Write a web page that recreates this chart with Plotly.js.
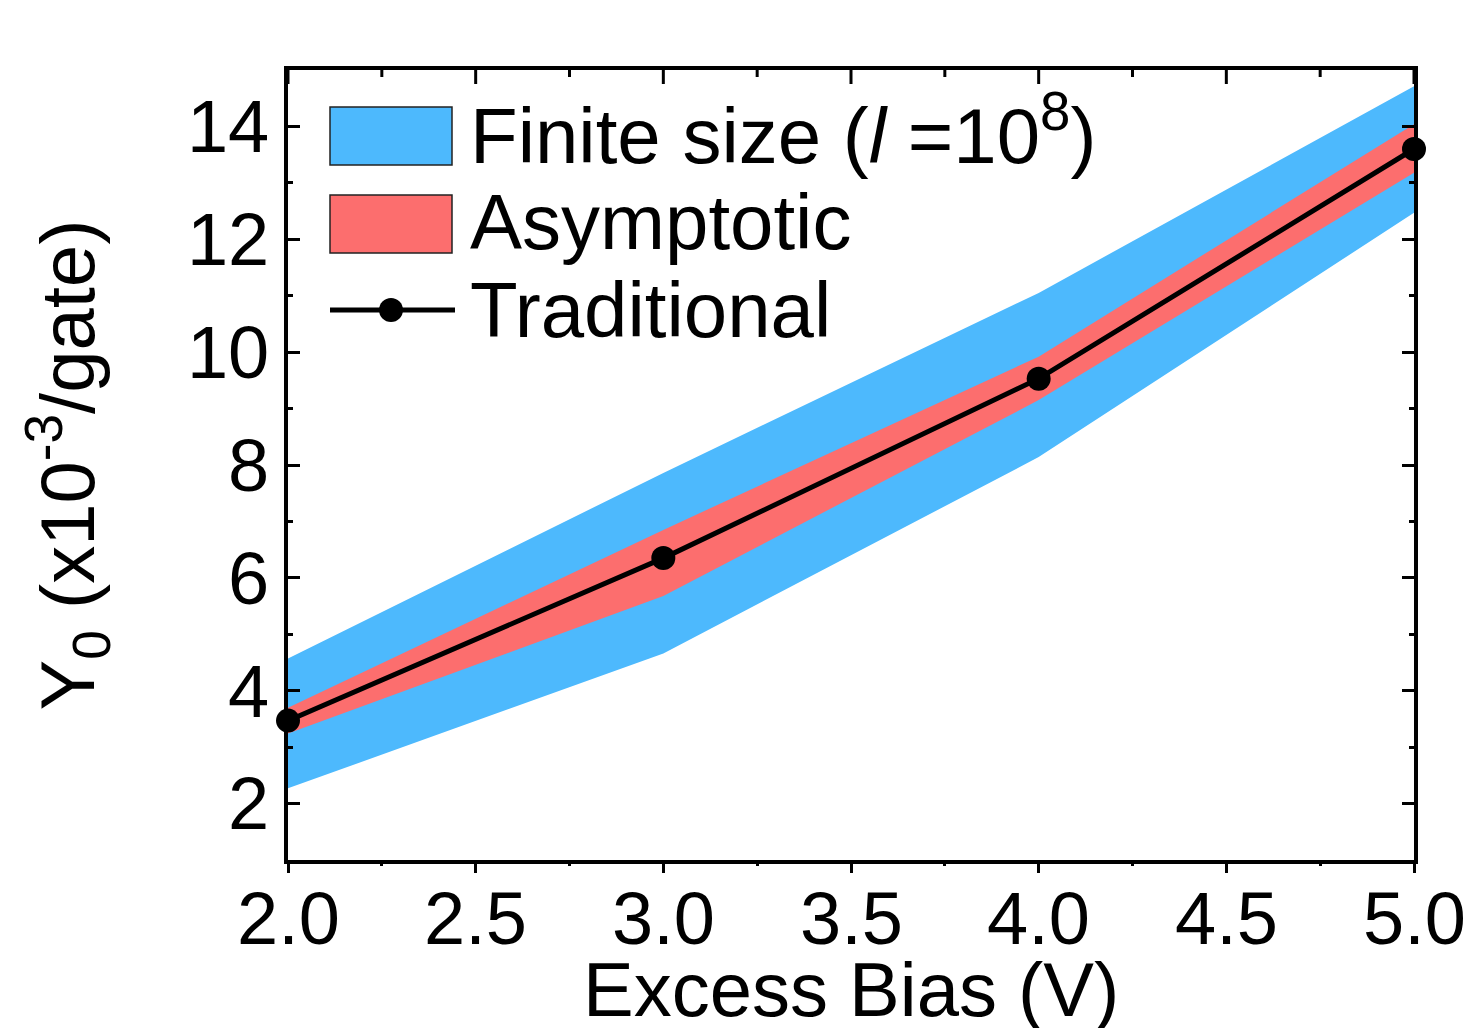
<!DOCTYPE html>
<html>
<head>
<meta charset="utf-8">
<script src="https://cdn.plot.ly/plotly-3.0.1.min.js"></script>
<style>html,body{margin:0;padding:0;background:#fff;}#chart{width:1470px;height:1028px;}</style>
</head>
<body>
<div id="chart"></div>
<script>
// ---- data ----
const excessBias = [2, 3, 4, 5];
const finiteUpper = [4.57, 7.86, 11.05, 14.71];
const finiteLower = [2.27, 4.66, 8.14, 12.47];
const asymUpper = [3.70, 6.85, 9.92, 14.04];
const asymLower = [3.24, 5.68, 9.15, 13.18];
const traditional = [3.47, 6.35, 9.53, 13.60];
const xTickVals = [2.0, 2.5, 3.0, 3.5, 4.0, 4.5, 5.0];
const xTickText = ['2.0', '2.5', '3.0', '3.5', '4.0', '4.5', '5.0'];
const xMinorVals = [2.25, 2.75, 3.25, 3.75, 4.25, 4.75];
const yTickVals = [2, 4, 6, 8, 10, 12, 14];
const yMinorVals = [1, 3, 5, 7, 9, 11, 13, 15];
const xTitle = 'Excess Bias (V)';
const yTitle = 'Y<sub>0</sub> (x10<sup>-3</sup>/gate)';
const legendLabels = ['Finite size (<i>l</i> =10<sup>8</sup>)', 'Asymptotic', 'Traditional'];

const blue = '#4DB9FD';
const red = '#FC6E6E';
const FONT = 'Liberation Sans, Arial, sans-serif';

function band(upper, lower) {
  return {
    x: excessBias.concat(excessBias.slice().reverse()),
    y: upper.concat(lower.slice().reverse())
  };
}
const fb = band(finiteUpper, finiteLower);
const ab = band(asymUpper, asymLower);

const traces = [
  {x: fb.x, y: fb.y, type: 'scatter', mode: 'lines', fill: 'toself', fillcolor: blue,
   line: {width: 0, color: blue}, name: legendLabels[0], showlegend: false, hoverinfo: 'skip'},
  {x: ab.x, y: ab.y, type: 'scatter', mode: 'lines', fill: 'toself', fillcolor: red,
   line: {width: 0, color: red}, name: legendLabels[1], showlegend: false, hoverinfo: 'skip'},
  {x: excessBias, y: traditional, type: 'scatter', mode: 'lines+markers', name: legendLabels[2],
   line: {color: '#000', width: 5}, marker: {color: '#000', size: 24}, cliponaxis: false, showlegend: false},
  // invisible carrier trace so the tick-only bottom axis is drawn
  {x: excessBias, y: traditional, xaxis: 'x3', yaxis: 'y', type: 'scatter', mode: 'markers',
   marker: {opacity: 0, size: 1}, showlegend: false, hoverinfo: 'skip'}
];

// custom legend (paper coordinates)
const px = v => (v - 288) / 1126;
const py = v => (860 - v) / 790;
const shapes = [
  {type: 'rect', xref: 'paper', yref: 'paper', x0: px(330), x1: px(452), y0: py(165), y1: py(107),
   fillcolor: blue, line: {color: '#222', width: 1.5}},
  {type: 'rect', xref: 'paper', yref: 'paper', x0: px(330), x1: px(452), y0: py(253), y1: py(195),
   fillcolor: red, line: {color: '#222', width: 1.5}},
  {type: 'line', xref: 'paper', yref: 'paper', x0: px(330), x1: px(455), y0: py(310), y1: py(310),
   line: {color: '#000', width: 5}},
  {type: 'circle', xref: 'paper', yref: 'paper', x0: px(379), x1: px(403), y0: py(322), y1: py(298),
   fillcolor: '#000', line: {color: '#000', width: 0}}
];
// inward ticks on the top frame, placed on the x data scale
xTickVals.forEach(v => shapes.push({type: 'line', xref: 'x', yref: 'paper', x0: v, x1: v,
  y0: 1, y1: 1 - 14 / 790, line: {color: '#000', width: 3}}));
xMinorVals.forEach(v => shapes.push({type: 'line', xref: 'x', yref: 'paper', x0: v, x1: v,
  y0: 1, y1: 1 - 7 / 790, line: {color: '#000', width: 3}}));

const legendY = [131, 222, 310];
const annotations = legendLabels.map((t, i) => ({
  xref: 'paper', yref: 'paper', x: px(468), y: py(legendY[i]), xanchor: 'left', yanchor: 'middle',
  text: t, showarrow: false, font: {family: FONT, size: 78, color: '#000'}
}));
// x tick labels placed on the x data scale
xTickVals.forEach((v, i) => annotations.push({
  xref: 'x', yref: 'paper', x: v, y: py(918), xanchor: 'center', yanchor: 'middle',
  text: xTickText[i], showarrow: false, font: {family: FONT, size: 74, color: '#000'}
}));
annotations.push({
  xref: 'paper', yref: 'paper', x: px(851), y: py(989), xanchor: 'center', yanchor: 'middle',
  text: xTitle, showarrow: false, font: {family: FONT, size: 76, color: '#000'}
});

const layout = {
  width: 1470, height: 1028,
  margin: {l: 288, r: 56, t: 70, b: 168, pad: 0},
  paper_bgcolor: '#fff', plot_bgcolor: '#fff',
  showlegend: false,
  xaxis: {
    range: [2, 5], showline: true, linecolor: '#000', linewidth: 4, mirror: true,
    showgrid: false, zeroline: false, ticks: '', showticklabels: false
  },
  // bottom side: outward ticks
  xaxis3: {
    overlaying: 'x', anchor: 'y', side: 'bottom', range: [2, 5], tickvals: xTickVals,
    showticklabels: false, ticks: 'outside', ticklen: 12, tickwidth: 3, tickcolor: '#000',
    showline: false, showgrid: false, zeroline: false,
    minor: {tickvals: xMinorVals, ticks: 'outside', ticklen: 5, tickwidth: 3, tickcolor: '#000'}
  },
  yaxis: {
    range: [1, 15], tickvals: yTickVals, ticks: 'inside', mirror: 'ticks',
    showline: true, linecolor: '#000', linewidth: 4, showgrid: false, zeroline: false,
    tickcolor: '#000', tickwidth: 3, ticklen: 12,
    tickfont: {family: FONT, size: 74, color: '#000'},
    minor: {tickvals: yMinorVals, ticks: 'inside', ticklen: 5, tickwidth: 3, tickcolor: '#000'},
    title: {text: yTitle, font: {family: FONT, size: 76, color: '#000'}, standoff: 68}
  },
  shapes: shapes,
  annotations: annotations
};

Plotly.newPlot('chart', traces, layout, {displayModeBar: false, staticPlot: true});
</script>
</body>
</html>
